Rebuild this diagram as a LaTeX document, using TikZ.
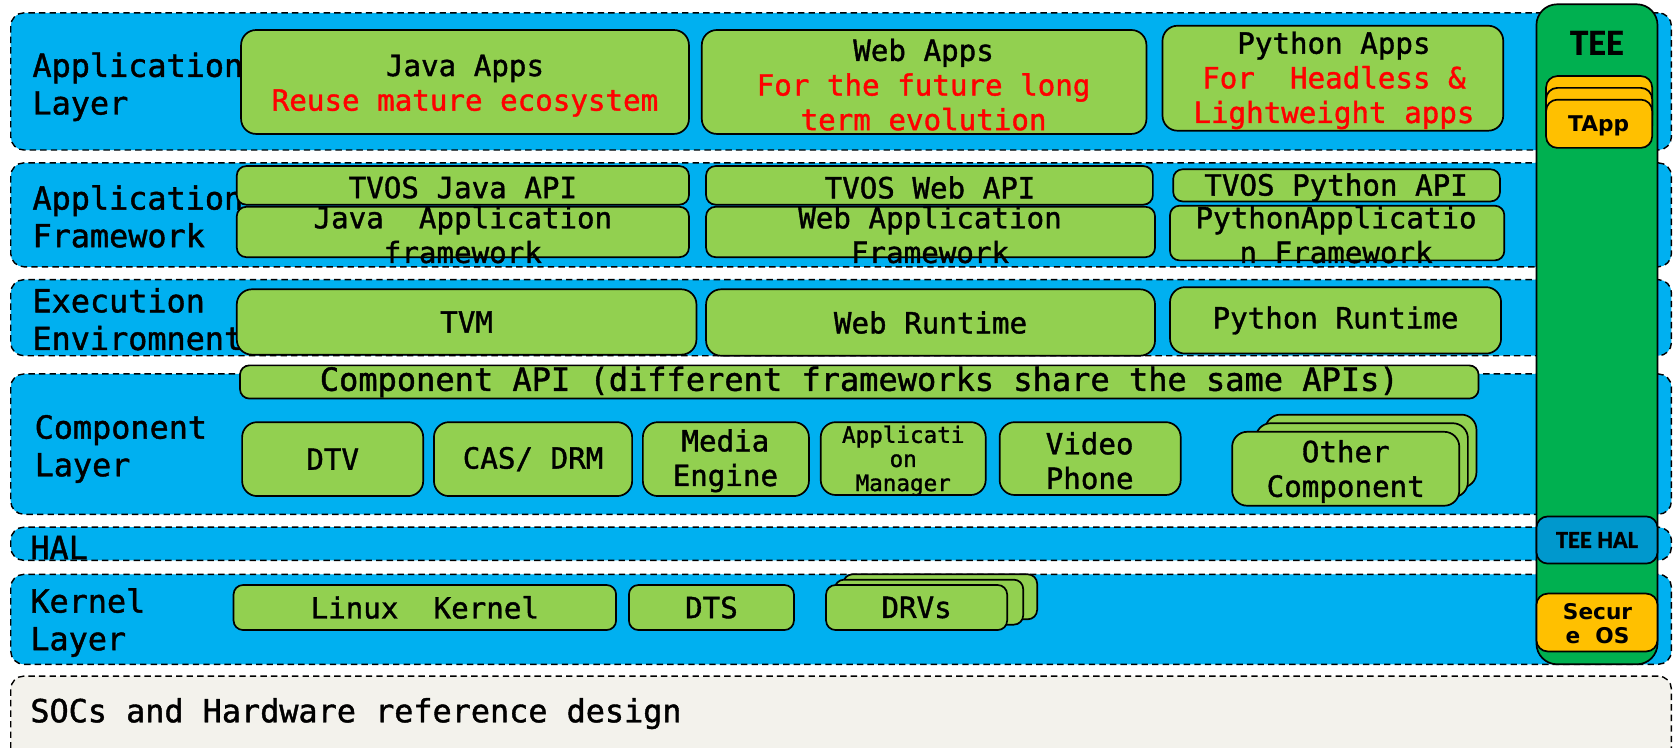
\documentclass[tikz,border=0pt]{standalone}
\usepackage{fontspec}
\setmonofont[FakeBold=1.3]{DejaVu Sans Mono}
\newfontfamily\teefont[FakeBold=1]{Carlito}
\newfontfamily\dvfont{DejaVu Sans}
\usetikzlibrary{fit}
\definecolor{bandblue}{HTML}{00B0F0}
\definecolor{boxgreen}{HTML}{92D050}
\definecolor{teegreen}{HTML}{00B050}
\definecolor{tyellow}{HTML}{FFC000}
\definecolor{halblue}{HTML}{0098CD}
\definecolor{socfill}{HTML}{F3F2EC}
\definecolor{txtred}{HTML}{FF0000}
\tikzset{
  band/.style={draw=black, fill=bandblue, dash pattern=on 3.4pt off 2.2pt, rounded corners=7pt, line width=0.75pt, inner sep=0pt},
  socband/.style={band, fill=socfill},
  gbox/.style={draw=black, fill=boxgreen, rounded corners=8pt, line width=0.9pt, inner sep=0pt},
  sbox/.style={gbox, rounded corners=5pt},
  ybox/.style={draw=black, fill=tyellow, rounded corners=6pt, line width=0.9pt, inner sep=0pt},
  teecol/.style={draw=black, fill=teegreen, rounded corners=11pt, line width=0.9pt, inner sep=0pt},
  halbox/.style={draw=black, fill=halblue, rounded corners=6pt, line width=0.9pt, inner sep=0pt},
  lbl/.style={font=\ttfamily\fontsize{16.9}{20}\selectfont, align=left, anchor=west, inner sep=0pt},
  bt/.style={font=\ttfamily\fontsize{15.5}{18.4}\selectfont, align=center, inner sep=0pt},
  bts/.style={font=\ttfamily\fontsize{12}{12.8}\selectfont, align=center, inner sep=0pt},
  btb/.style={font=\ttfamily\fontsize{17}{20}\selectfont, align=center, inner sep=0pt},
  teet/.style={font=\teefont\bfseries\fontsize{13}{14}\selectfont, align=center, inner sep=0pt},
  dvt/.style={font=\dvfont\bfseries\fontsize{11.5}{13.2}\selectfont, align=center, inner sep=0pt},
}
\newcommand\bx[6]{\node[#1, fit={(#3,#4) (#5,#6)}] (#2) {};}
\begin{document}
\begin{tikzpicture}[x=0.02cm, y=-0.02cm]
\useasboundingbox (0,0) rectangle (1568,698);
\clip (0,0) rectangle (1568,698);
% bands
\bx{band}{appband}{10}{12}{1560}{140}
\bx{band}{fwband}{10}{152}{1560}{249}
\bx{band}{exband}{10}{261}{1560}{332}
\bx{band}{compband}{10}{349}{1560}{480}
\bx{band}{halband}{10}{492}{1560}{523}
\bx{band}{kband}{10}{536}{1560}{620}
\bx{socband}{socband}{10}{631}{1560}{720}
% layer labels
\node[lbl] (l-app) at (30,81) {Application\\Layer};
\node[lbl] (l-fw) at (30,202) {Application\\Framework};
\node[lbl] (l-ex) at (30,298) {Execution\\Enviromnent};
\node[lbl] (l-comp) at (32,419) {Component\\Layer};
\node[lbl] (l-hal) at (28,511) {HAL};
\node[lbl] (l-k) at (28,581) {Kernel\\Layer};
\node[lbl] (l-soc) at (28,666) {SOCs and Hardware reference design};
% application layer
\bx{gbox}{javaapps}{225}{28}{643}{125}
\bx{gbox}{webapps}{655}{28}{1070}{125}
\bx{gbox}{pyapps}{1085}{24}{1403}{122}
\node[bt] (t-javaapps) at (434,80) {Java Apps\\\textcolor{txtred}{Reuse mature ecosystem}};
\node[bt] (t-webapps) at (862,79) {Web Apps\\\textcolor{txtred}{For the future long}\\\textcolor{txtred}{term evolution}};
\node[bt] (t-pyapps) at (1245,75) {Python Apps\\\textcolor{txtred}{For\ \ Headless \&}\\\textcolor{txtred}{Lightweight apps}};
% framework layer
\bx{sbox}{javaapi}{221}{155}{643}{191}
\bx{sbox}{javafw}{221}{193}{643}{240}
\bx{sbox}{webapi}{659}{155}{1076}{191}
\bx{sbox}{webfw}{659}{193}{1078}{240}
\bx{sbox}{pyapi}{1095}{158}{1400}{188}
\bx{sbox}{pyfw}{1092}{192}{1404}{243}
\node[bt] (t-javaapi) at (432,175) {TVOS Java API};
\node[bt] (t-javafw) at (432,219) {Java\ \ Application\\framework};
\node[bt] (t-webapi) at (868,175) {TVOS Web API};
\node[bt] (t-webfw) at (868,219) {Web Application\\Framework};
\node[bt] (t-pyapi) at (1247,175) {TVOS Python API};
\node[bt] (t-pyfw) at (1247,219) {PythonApplicatio\\n Framework};
% execution
\bx{gbox}{tvm}{221}{270}{650}{331}
\bx{gbox}{webrt}{659}{270}{1078}{332}
\bx{gbox}{pyrt}{1092}{268}{1401}{330}
\node[bt] (t-tvm) at (tvm) {TVM};
\node[bt] (t-webrt) at (webrt) {Web Runtime};
\node[bt] (t-pyrt) at (pyrt) {Python Runtime};
% component layer
\bx{sbox}{compapi}{224}{341}{1380}{372}
\node[btb] (t-compapi) at (compapi) {Component API (different frameworks share the same APIs)};
\bx{gbox}{dtv}{226}{394}{395}{463}
\bx{gbox}{cas}{405}{394}{590}{463}
\bx{gbox}{media}{600}{394}{755}{463}
\bx{gbox}{appmgr}{766}{394}{920}{462}
\bx{gbox}{video}{933}{394}{1102}{462}
\bx{gbox}{other3}{1181}{387}{1378}{455}
\bx{gbox}{other2}{1172}{395}{1370}{464}
\bx{gbox}{other1}{1150}{403}{1362}{472}
\node[bt] (t-dtv) at (dtv) {DTV};
\node[bt] (t-cas) at (cas) {CAS/ DRM};
\node[bt] (t-media) at (677,430) {Media\\Engine};
\node[bts] (t-appmgr) at (843,430) {Applicati\\on\\Manager};
\node[bt] (t-video) at (1017,430) {Video\\Phone};
\node[bt] (t-other) at (1256,440) {Other\\Component};
% kernel layer
\bx{sbox}{linux}{218}{546}{575}{588}
\bx{sbox}{dts}{587}{546}{741}{588}
\bx{sbox}{drv3}{787}{536}{968}{578}
\bx{sbox}{drv2}{779}{541}{955}{583}
\bx{sbox}{drv1}{771}{546}{940}{588}
\node[bt] (t-linux) at (linux) {Linux\ \ Kernel};
\node[bt] (t-dts) at (dts) {DTS};
\node[bt] (t-drv) at (drv1) {DRVs};
% TEE column
\bx{teecol}{teecol}{1434}{4}{1547}{620}
\node[teet, font=\teefont\bfseries\fontsize{19.5}{20}\selectfont] (t-tee) at (1490.5,40) {TEE};
\bx{ybox}{tapp3}{1443}{71}{1542}{118}
\bx{ybox}{tapp2}{1443}{82}{1542}{128}
\bx{ybox}{tapp1}{1443}{93}{1542}{138}
\node[dvt] (t-tapp) at (1492,117) {TApp};
\bx{halbox}{teehal}{1434}{482}{1547}{526}
\node[teet] (t-teehal) at (teehal) {TEE HAL};
\bx{ybox}{secos}{1434}{554}{1547}{608}
\node[dvt] (t-secos) at (1491,582) {Secur\\e\ \ OS};
\end{tikzpicture}
\end{document}
